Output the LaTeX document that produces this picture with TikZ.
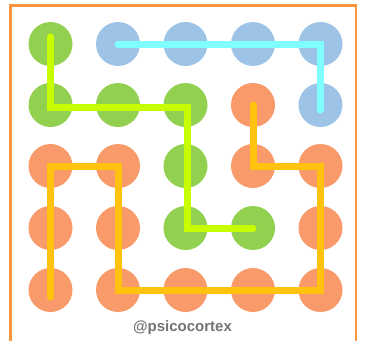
\documentclass[tikz,border=0pt]{standalone}
\usepackage{fontspec}
\setmainfont{Liberation Sans}
\usepackage{tikz}
\definecolor{dgreen}{HTML}{92D050}
\definecolor{dblue}{HTML}{9DC3E6}
\definecolor{dorange}{HTML}{F89A6A}
\definecolor{lcyan}{HTML}{80FFFF}
\definecolor{llime}{HTML}{C8FF00}
\definecolor{lyellow}{HTML}{FFC20E}
\definecolor{frameorange}{HTML}{F7963F}

\begin{document}
\begin{tikzpicture}[x=1pt,y=-1pt,
  dot/.style={circle,minimum size=44pt,inner sep=0pt},
  g/.style={dot,fill=dgreen},
  b/.style={dot,fill=dblue},
  o/.style={dot,fill=dorange},
  trail/.style={line width=7pt,line cap=round,line join=miter}]
\useasboundingbox (0,0) rectangle (366,340);
\draw[frameorange,line width=2.5pt] (10.5,345)--(10.5,5.5)--(356,5.5)--(356,345);

\draw (50.5,44) node[g] (d11) {} +(67.5,0) node[b] (d21) {} +(135,0) node[b] (d31) {} +(202.5,0) node[b] (d41) {} +(270,0) node[b] (d51) {};
\draw (50.5,105) node[g] (d12) {} +(67.5,0) node[g] (d22) {} +(135,0) node[g] (d32) {} +(202.5,0) node[o] (d42) {} +(270,0) node[b] (d52) {};
\draw (50.5,166) node[o] (d13) {} +(67.5,0) node[o] (d23) {} +(135,0) node[g] (d33) {} +(202.5,0) node[o] (d43) {} +(270,0) node[o] (d53) {};
\draw (50.5,228) node[o] (d14) {} +(67.5,0) node[o] (d24) {} +(135,0) node[g] (d34) {} +(202.5,0) node[g] (d44) {} +(270,0) node[o] (d54) {};
\draw (50.5,290) node[o] (d15) {} +(67.5,0) node[o] (d25) {} +(135,0) node[o] (d35) {} +(202.5,0) node[o] (d45) {} +(270,0) node[o] (d55) {};

\draw[trail,lcyan] (d21.center)--(d51.center)--([yshift=-5pt]d52.center);
\draw[trail,llime] ([yshift=7pt]d11.center)--([yshift=-2pt]d12.center)--([xshift=2pt,yshift=-2pt]d32.center)--([xshift=2pt]d34.center)--(d44.center);
\draw[trail,lyellow] ([yshift=-7pt]d15.center)--(d13.center)--(d23.center)--(d25.center)--(d55.center)--(d53.center)--(d43.center)--(d42.center);

\node[text=black!55,font=\bfseries\fontsize{15}{18}\selectfont] (tag) at (182.5,328) {@psicocortex};
\end{tikzpicture}
\end{document}
